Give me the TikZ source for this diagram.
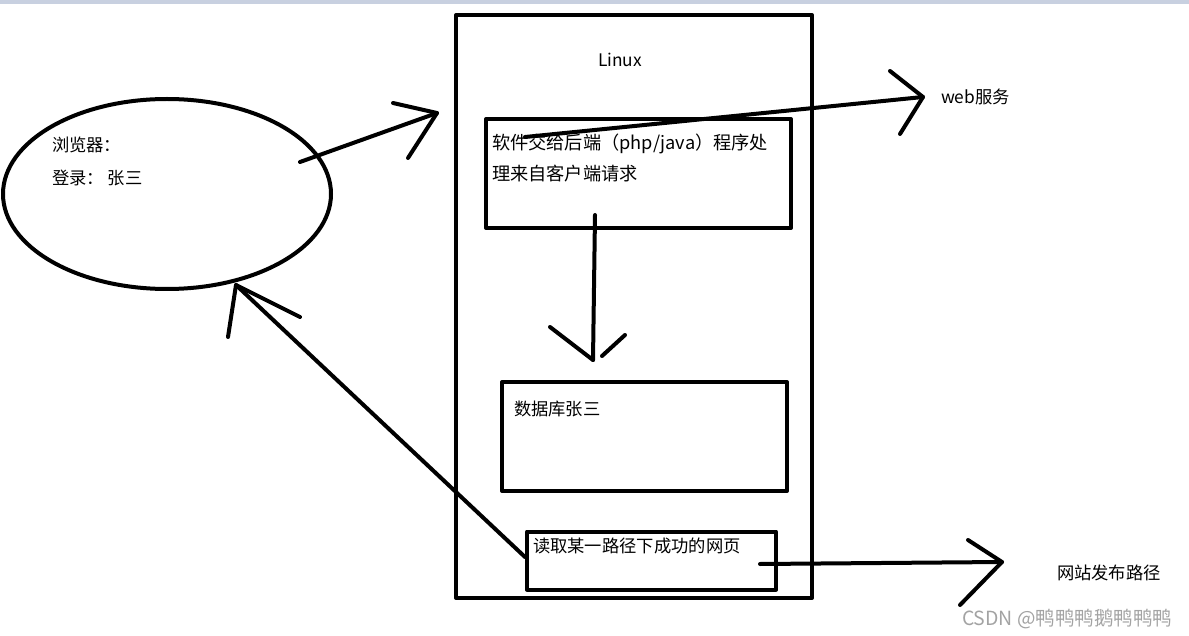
\documentclass[tikz,border=0pt]{standalone}
\usepackage{fontspec}
\setmainfont{Noto Sans CJK SC}
\usetikzlibrary{shapes.geometric}
\definecolor{barblue}{RGB}{200,208,224}
\begin{document}
\begin{tikzpicture}[
                x=1pt, y=-1pt,
                line width=4pt, line cap=round, line join=round,
                every node/.style={inner sep=0pt, outer sep=0pt, font=\fontsize{17.3}{20}\selectfont},
                box/.style={draw, rectangle, line width=4pt},
                txt/.style={anchor=west, align=left}
                ]
                \useasboundingbox (0,0) rectangle (1189,636);
                \fill[barblue] (0,0) rectangle (1189,4);
                % browser on the left
                \node[draw, ellipse, line width=4pt, minimum width=328pt, minimum height=190pt] (browser) at (167,194) {};
                \node[txt, font=\fontsize{17.3}{33}\selectfont] (login) at (52,161.5) {浏览器：\\登录：\ 张三};
                % linux server
                \node[box, minimum width=356pt, minimum height=583pt] (linux) at (634,306.5) {};
                \node (linuxname) at (620,60) {Linux};
                \node[box, minimum width=305pt, minimum height=109pt] (backend) at (638.5,173.5) {};
                \node[txt, font=\fontsize{18.2}{31}\selectfont] (backendtext) at (492,157.5) {软件交给后端（php/java）程序处\\理来自客户端请求};
                \node[box, minimum width=285pt, minimum height=109pt] (db) at (644.5,436.5) {};
                \node[txt] (dbtext) at (514,409) {数据库张三};
                \node[box, minimum width=249pt, minimum height=58pt] (page) at (651.5,560.5) {};
                \node[txt] (pagetext) at (533,546) {读取某一路径下成功的网页};
                % outside labels
                \node[txt] (web) at (941,97) {web服务};
                \node[txt] (path) at (1057,573) {网站发布路径};
                \node[txt, text=black!36, font=\fontsize{19.5}{22}\selectfont] (mark) at (962,619) {CSDN @鸭鸭鸭鹅鸭鸭鸭};
                % hand drawn arrows, the heads drawn as two strokes
                \coordinate (b1) at (300,162);
                \coordinate (l1) at (437,113);
                \coordinate (s1) at (525,137);
                \coordinate (w1) at (923,97);
                \coordinate (d1) at (595,215);
                \coordinate (d2) at (593,360);
                \coordinate (r1) at (525,557);
                \coordinate (r2) at (236,285);
                \coordinate (p1) at (760,564);
                \coordinate (p2) at (1002,562);
                \draw (b1) -- (l1);
                \draw (l1) ++(-44,-10) -- (l1) -- ++(-29,45);
                \draw (s1) -- (w1);
                \draw (w1) ++(-33,-26) -- (w1) -- ++(-23,37);
                \draw (d1) -- (d2);
                \draw (d2) ++(-43,-33) -- (d2);
                \draw (d2) ++(32,-25) -- ++(-23,21);
                \draw (r1) -- (r2);
                \draw (r2) ++(-8,52) -- (r2) -- ++(64,32);
                \draw (p1) -- (p2);
                \draw (p2) ++(-34,-22) -- (p2) -- ++(-42,43);
            \end{tikzpicture}
\end{document}
